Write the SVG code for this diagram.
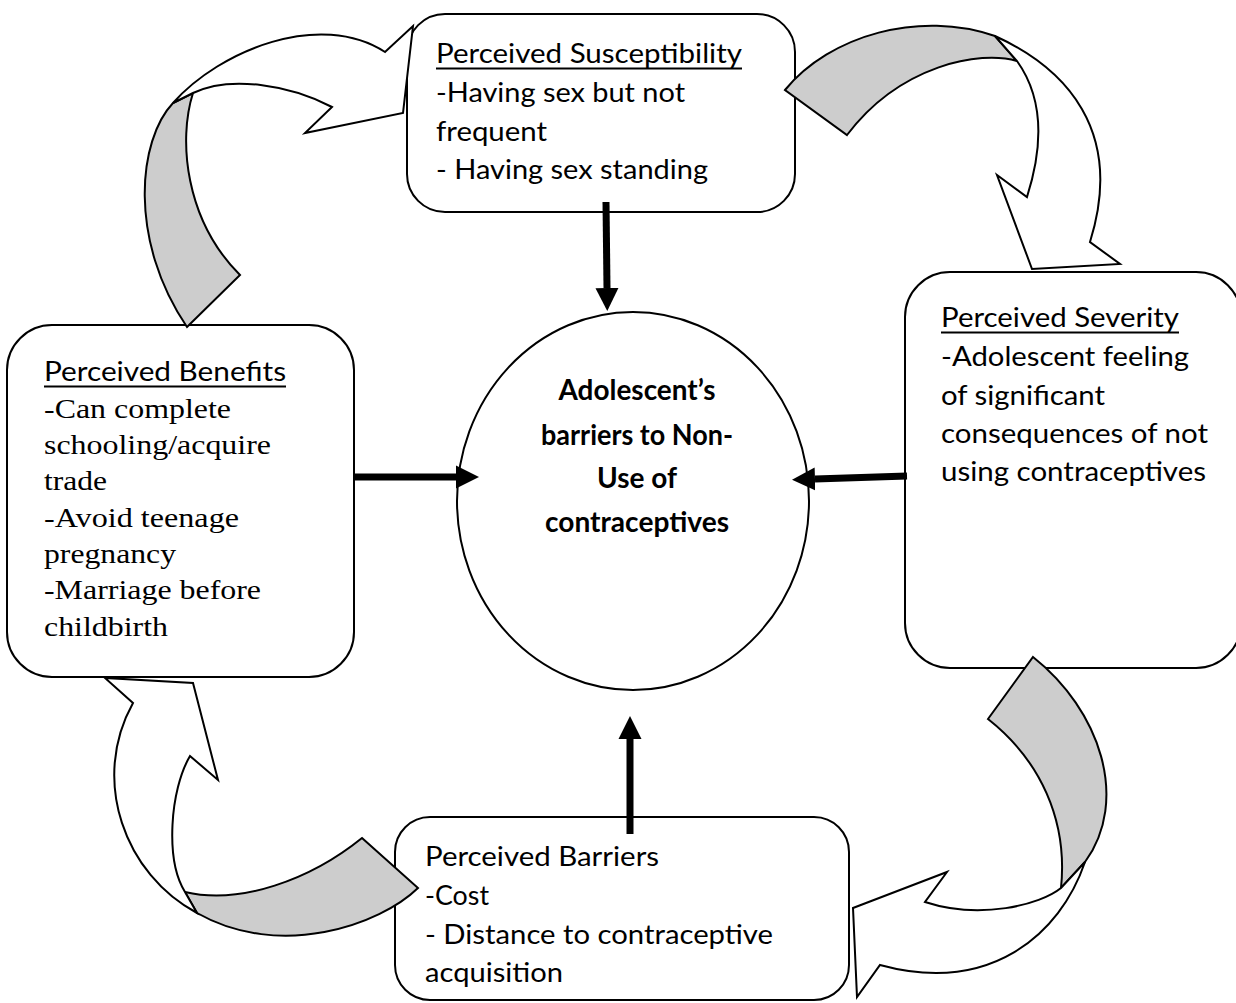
<svg xmlns="http://www.w3.org/2000/svg" width="1236" height="1003" viewBox="0 0 1236 1003">
<defs>
<style>
.box{fill:#fff;stroke:#000;stroke-width:2}
.t{font-family:Lato,"Liberation Sans",sans-serif;font-size:27px;fill:#000}
.s{font-family:"Liberation Serif","Times New Roman",serif;font-size:28px;fill:#000}
.b{font-family:Lato,"Liberation Sans",sans-serif;font-size:28px;font-weight:bold;fill:#000;text-anchor:middle}
.ul{stroke:#000;stroke-width:2}
.conn{stroke:#000;stroke-width:7;fill:none;marker-end:url(#head)}
.grey{fill:#cdcdcd;stroke:#000;stroke-width:2;stroke-linejoin:miter}
.white{fill:#fff;stroke:#000;stroke-width:2;stroke-linejoin:miter}
</style>
<marker id="head" viewBox="0 0 24 24" refX="0" refY="12" markerWidth="24" markerHeight="24" markerUnits="userSpaceOnUse" orient="auto">
<path d="M0,0.5 L23,12 L0,23.5 Z" fill="#000"/>
</marker>
</defs>
<rect width="1236" height="1003" fill="#fff"/>

<g id="susceptibility">
<rect class="box" x="407" y="14" width="388" height="198" rx="38"/>
<text class="t" x="436" y="63" textLength="306" lengthAdjust="spacingAndGlyphs">Perceived Susceptibility</text>
<line class="ul" x1="436" y1="68.5" x2="742" y2="68.5"/>
<text class="t" x="436" y="102" textLength="249" lengthAdjust="spacingAndGlyphs">-Having sex but not</text>
<text class="t" x="436" y="141" textLength="111" lengthAdjust="spacingAndGlyphs">frequent</text>
<text class="t" x="436" y="179" textLength="272" lengthAdjust="spacingAndGlyphs">- Having sex standing</text>
</g>

<g id="benefits">
<rect class="box" x="7" y="325" width="347" height="352" rx="45"/>
<text class="t" x="44" y="381" textLength="242" lengthAdjust="spacingAndGlyphs">Perceived Benefits</text>
<line class="ul" x1="44" y1="386.5" x2="286" y2="386.5"/>
<text class="s" x="44" y="418" textLength="187" lengthAdjust="spacingAndGlyphs">-Can complete</text>
<text class="s" x="44" y="454" textLength="227" lengthAdjust="spacingAndGlyphs">schooling/acquire</text>
<text class="s" x="44" y="490" textLength="63" lengthAdjust="spacingAndGlyphs">trade</text>
<text class="s" x="44" y="527" textLength="195" lengthAdjust="spacingAndGlyphs">-Avoid teenage</text>
<text class="s" x="44" y="563" textLength="132" lengthAdjust="spacingAndGlyphs">pregnancy</text>
<text class="s" x="44" y="599" textLength="217" lengthAdjust="spacingAndGlyphs">-Marriage before</text>
<text class="s" x="44" y="636" textLength="124" lengthAdjust="spacingAndGlyphs">childbirth</text>
</g>

<g id="severity">
<rect class="box" x="905" y="272" width="336" height="396" rx="45"/>
<text class="t" x="941" y="327" textLength="238" lengthAdjust="spacingAndGlyphs">Perceived Severity</text>
<line class="ul" x1="941" y1="332.5" x2="1179" y2="332.5"/>
<text class="t" x="941" y="366" textLength="248" lengthAdjust="spacingAndGlyphs">-Adolescent feeling</text>
<text class="t" x="941" y="405" textLength="164" lengthAdjust="spacingAndGlyphs">of significant</text>
<text class="t" x="941" y="443" textLength="267" lengthAdjust="spacingAndGlyphs">consequences of not</text>
<text class="t" x="941" y="481" textLength="265" lengthAdjust="spacingAndGlyphs">using contraceptives</text>
</g>

<g id="barriers">
<rect class="box" x="395" y="817" width="454" height="183" rx="35"/>
<text class="t" x="425" y="866" textLength="234" lengthAdjust="spacingAndGlyphs">Perceived Barriers</text>
<text class="t" x="425" y="905" textLength="64" lengthAdjust="spacingAndGlyphs">-Cost</text>
<text class="t" x="425" y="944" textLength="348" lengthAdjust="spacingAndGlyphs">- Distance to contraceptive</text>
<text class="t" x="425" y="982" textLength="138" lengthAdjust="spacingAndGlyphs">acquisition</text>
</g>

<g id="center">
<ellipse class="box" cx="633" cy="501" rx="176" ry="189"/>
<text class="b" x="637" y="400" textLength="157" lengthAdjust="spacingAndGlyphs">Adolescent’s</text>
<text class="b" x="637" y="445" textLength="192" lengthAdjust="spacingAndGlyphs">barriers to Non-</text>
<text class="b" x="637" y="488" textLength="80" lengthAdjust="spacingAndGlyphs">Use of</text>
<text class="b" x="637" y="532" textLength="184" lengthAdjust="spacingAndGlyphs">contraceptives</text>
</g>

<g id="connectors">
<line class="conn" x1="606" y1="202" x2="607" y2="288"/>
<line class="conn" x1="355" y1="477" x2="456" y2="477"/>
<line class="conn" x1="907" y1="476" x2="815" y2="479"/>
<line class="conn" x1="630" y1="834" x2="630" y2="739"/>

<g id="cycle-benefits-to-susceptibility">
<path class="grey" d="M187,327 L240,275 C185,220 178,140 193,93 L173,103 C138,140 128,240 187,327 Z"/>
<path class="white" d="M173,103 C220,50 320,10 385,52 L413,26 L403,113 L305,133 L332,107 C290,85 230,75 193,93 Z"/>
</g>
<g id="cycle-susceptibility-to-severity">
<path class="grey" d="M785,90 C830,35 920,10 995,36 L1017,61 C980,50 900,65 847,135 Z"/>
<path class="white" d="M995,36 C1065,68 1125,130 1090,242 L1120,264 L1032,269 L997,175 L1027,197 C1042,150 1045,100 1017,61 Z"/>
</g>
<g id="cycle-severity-to-barriers">
<path class="grey" d="M1033,657 C1100,710 1130,800 1085,862 L1061,888 C1068,820 1040,760 988,719 Z"/>
<path class="white" d="M1085,862 C1060,935 990,995 880,965 L857,997 L853,908 L947,872 L925,902 C980,920 1040,905 1061,888 Z"/>
</g>
<g id="cycle-barriers-to-benefits">
<path class="grey" d="M362,838 L418,888 C380,925 280,960 197,913 L185,892 C240,905 310,880 362,838 Z"/>
<path class="white" d="M197,913 C125,875 90,780 133,703 L105,678 L193,683 L218,780 L190,756 C170,790 165,860 185,892 Z"/>
</g>
</g>
</svg>
